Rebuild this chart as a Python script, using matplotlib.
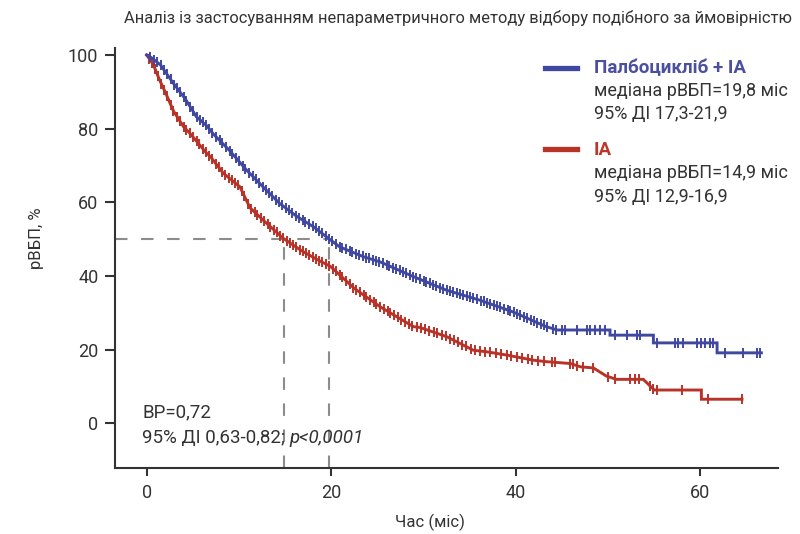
import numpy as np
import matplotlib
matplotlib.use("Agg")
import matplotlib.pyplot as plt
from matplotlib.lines import Line2D

plt.rcParams['font.family'] = ['Roboto', 'DejaVu Sans']

# ---- data ----
title = "Аналіз із застосуванням непараметричного методу відбору подібного за ймовірністю"
x_label = "Час (міс)"
y_label = "рВБП, %"
x_ticks = [0, 20, 40, 60]
y_ticks = [0, 20, 40, 60, 80, 100]

blue_name = "Палбоцикліб + ІА"
blue_lines = ["медіана рВБП=19,8 міс", "95% ДІ 17,3-21,9"]
red_name = "ІА"
red_lines = ["медіана рВБП=14,9 міс", "95% ДІ 12,9-16,9"]
hr_text = "ВР=0,72"
ci_text = "95% ДІ 0,63-0,82; "
p_text = "p<0,0001"

median_blue = 19.8
median_red = 14.9

blue_t = [0, 0.5, 1.5, 2.9, 4.2, 5.4, 6.5, 7.2, 9.0, 10.8, 12.6, 14.4, 16.3, 18.1,
          19.8, 20.9, 23.5, 25.3, 28.9, 32.5, 36.1, 39.7, 43.3, 44.5, 50.2, 50.2,
          54.9, 54.9, 61.8, 61.8, 66.6]
blue_s = [100, 99.3, 97.3, 92.3, 88.0, 83.2, 80.8, 78.6, 74.0, 68.8, 64.2, 59.7, 56.1, 53.3,
          50.0, 47.9, 45.2, 43.8, 39.8, 36.1, 33.4, 30.2, 26.2, 25.3, 25.3, 23.9,
          23.9, 21.8, 21.8, 19.1, 19.1]

red_t = [0, 0.7, 1.4, 2.0, 2.9, 4.0, 4.7, 6.5, 6.9, 8.3, 10.1, 11.2, 12.6, 14.8, 16.8,
         18.8, 19.9, 22.5, 25.3, 28.9, 29.6, 32.5, 35.4, 36.8, 39.0, 41.9, 43.3, 45.9,
         47.0, 48.4, 49.8, 50.9, 53.8, 55.0, 60.1, 60.1, 64.5]
red_s = [100, 97.5, 93.2, 90.0, 84.8, 80.5, 78.7, 73.3, 72.4, 67.9, 64.2, 58.5, 55.2, 50.2, 46.8,
         44.0, 42.6, 36.6, 31.6, 26.2, 26.0, 23.5, 19.8, 19.4, 18.5, 17.1, 16.7, 16.2,
         15.3, 15.0, 12.8, 11.9, 11.9, 9.0, 9.0, 6.5, 6.5]

blue_censor = [0.4, 0.8, 1.1, 1.5, 1.9, 2.2, 2.6, 3.0, 3.3, 3.6, 4.0, 4.3, 4.7, 5.0, 5.4,
               5.8, 6.1, 6.4, 6.8, 7.1, 7.5, 7.9, 8.2, 8.6, 9.0, 9.3, 9.7, 10.0, 10.4, 10.7,
               11.1, 11.5, 11.8, 12.2, 12.6, 12.9, 13.3, 13.6, 14.0, 14.3, 14.7, 15.1, 15.4,
               15.8, 16.2, 16.5, 16.9, 17.2, 17.6, 18.0, 18.3, 18.7, 19.0, 19.4, 19.8, 20.1,
               20.5, 20.9, 21.2, 21.6, 22.0, 22.3, 22.7, 23.0, 23.4, 23.8, 24.1, 24.5, 24.9,
               25.2, 25.6, 26.0, 26.3, 26.7, 27.0, 27.4, 27.8, 28.1, 28.5, 28.9, 29.2, 29.6,
               30.0, 30.3, 30.7, 31.0, 31.4, 31.8, 32.1, 32.5, 32.9, 33.2, 33.6, 34.0, 34.3,
               34.7, 35.0, 35.4, 35.8, 36.2, 36.5, 36.9, 37.2, 37.6, 38.0, 38.3, 38.7, 39.1,
               39.4, 39.8, 40.1, 40.5, 40.9, 41.2, 41.6, 42.0, 42.3, 42.7, 43.0, 43.4,
               44.05, 44.4, 44.96, 45.3, 46.6, 47.7, 48.0, 48.6, 49.1, 49.7, 50.7, 52.0,
               53.1, 53.4, 55.3, 57.2, 57.6, 58.1, 59.6, 60.1, 60.5, 61.0, 61.4, 62.7, 64.6,
               66.1, 66.4]
red_censor = [0.3, 0.6, 0.9, 1.2, 1.6, 1.9, 2.2, 2.6, 2.9, 3.3, 3.6, 4.0, 4.3, 4.7, 5.0,
              5.4, 5.7, 6.1, 6.4, 6.8, 7.1, 7.5, 7.8, 8.2, 8.5, 8.9, 9.2, 9.6, 9.9, 10.3,
              10.6, 11.0, 11.3, 11.7, 12.0, 12.4, 12.7, 13.1, 13.4, 13.8, 14.1, 14.5, 14.8,
              15.2, 15.5, 15.9, 16.2, 16.6, 16.9, 17.3, 17.6, 18.0, 18.3, 18.7, 19.0, 19.4,
              19.8, 20.2, 20.5, 20.9, 21.2, 21.6, 22.0, 22.4, 22.7, 23.1, 23.5, 23.8, 24.2,
              24.6, 24.9, 25.3, 25.7, 26.1, 26.4, 26.8, 27.2, 27.6, 28.0, 28.4, 28.8, 29.3,
              29.7, 30.2, 30.6, 31.1, 31.5, 32.0, 32.4, 32.9, 33.3, 33.7, 34.2, 34.6, 35.1,
              35.6, 36.1, 36.7, 37.2, 37.8, 38.4, 39.0, 39.5, 40.1, 40.7, 41.3, 41.8, 42.4,
              43.0, 43.9, 44.2, 45.9, 46.2, 46.6, 47.3, 48.4, 50.0, 50.7, 52.4, 52.9, 53.3,
              54.5, 54.9, 55.3, 58.0, 60.8, 64.5]

# ---- figure ----
W, H = 800, 534
fig = plt.figure(figsize=(W / 100, H / 100), dpi=100)
fig.patch.set_facecolor('white')
ax = fig.add_axes([115 / W, 1 - 467.7 / H, (778 - 115) / W, (467.7 - 48) / H])

blue_c = '#3f47a1'
red_c = '#b83227'
txt_c = '#333333'
dash_c = '#8c8c8c'

xlim = (-3.43, 68.4)
ylim = (-12.1, 101.9)
ax.set_xlim(*xlim)
ax.set_ylim(*ylim)

# median reference lines
l1 = ax.hlines(50, xlim[0], median_blue, color=dash_c, lw=1.5, zorder=1)
l2 = ax.vlines([median_red, median_blue], ylim[0], 50, color=dash_c, lw=1.5, zorder=1)
for l in (l1, l2):
    l.set_linestyle((0, (6, 6.5)))

# curves
for t, s, cens, c, z in ((red_t, red_s, red_censor, red_c, 3), (blue_t, blue_s, blue_censor, blue_c, 4)):
    ax.plot(t, s, color=c, lw=2.1, zorder=z, solid_joinstyle='miter')
    cy = np.interp(cens, t, s)
    ax.plot(cens, cy, ls='none', marker='|', ms=6.5, mew=1.4, color=c, zorder=z)

# axes styling
for sp in ('top', 'right'):
    ax.spines[sp].set_visible(False)
for sp in ('left', 'bottom'):
    ax.spines[sp].set_linewidth(1.5)
    ax.spines[sp].set_color(txt_c)
ax.set_xticks(x_ticks)
ax.set_yticks(y_ticks)
ax.tick_params(axis='y', direction='out', length=7, width=1.5, colors=txt_c, labelsize=13, pad=5)
ax.tick_params(axis='x', direction='out', length=5.5, width=1.5, colors=txt_c, labelsize=13, pad=6)

# labels
def px(x, y):
    return x / W, 1 - y / H

fig.text(*px(458, 18), title, ha='center', va='center', fontsize=11.9, color=txt_c)
fig.text(*px(430, 522), x_label, ha='center', va='center', fontsize=12, color=txt_c)
fig.text(*px(36, 238), y_label, ha='center', va='center', rotation=90, fontsize=12, color=txt_c)

# annotation
fig.text(*px(142, 412), hr_text, ha='left', va='center', fontsize=13.5, color=txt_c)
t1 = fig.text(*px(142, 438), ci_text, ha='left', va='center', fontsize=13.5, color=txt_c)
ax.annotate(p_text, xy=(1, 0), xycoords=t1, ha='left', va='bottom',
            fontsize=13.5, color=txt_c, style='italic')

# legend (manual)
fig.add_artist(Line2D([545 / W, 577 / W], [1 - 68 / H, 1 - 68 / H], color=blue_c, lw=3.8))
fig.text(*px(594, 68), blue_name, ha='left', va='center', fontsize=13.5, fontweight='bold', color='#4b4f9e')
fig.text(*px(594, 91), blue_lines[0], ha='left', va='center', fontsize=13, color=txt_c)
fig.text(*px(594, 114), blue_lines[1], ha='left', va='center', fontsize=13, color=txt_c)

fig.add_artist(Line2D([545 / W, 577 / W], [1 - 149 / H, 1 - 149 / H], color=red_c, lw=3.8))
fig.text(*px(594, 150), red_name, ha='left', va='center', fontsize=13.5, fontweight='bold', color='#c0352b')
fig.text(*px(594, 173), red_lines[0], ha='left', va='center', fontsize=13, color=txt_c)
fig.text(*px(594, 197), red_lines[1], ha='left', va='center', fontsize=13, color=txt_c)

fig.savefig('out.png', dpi=100, facecolor='white')
